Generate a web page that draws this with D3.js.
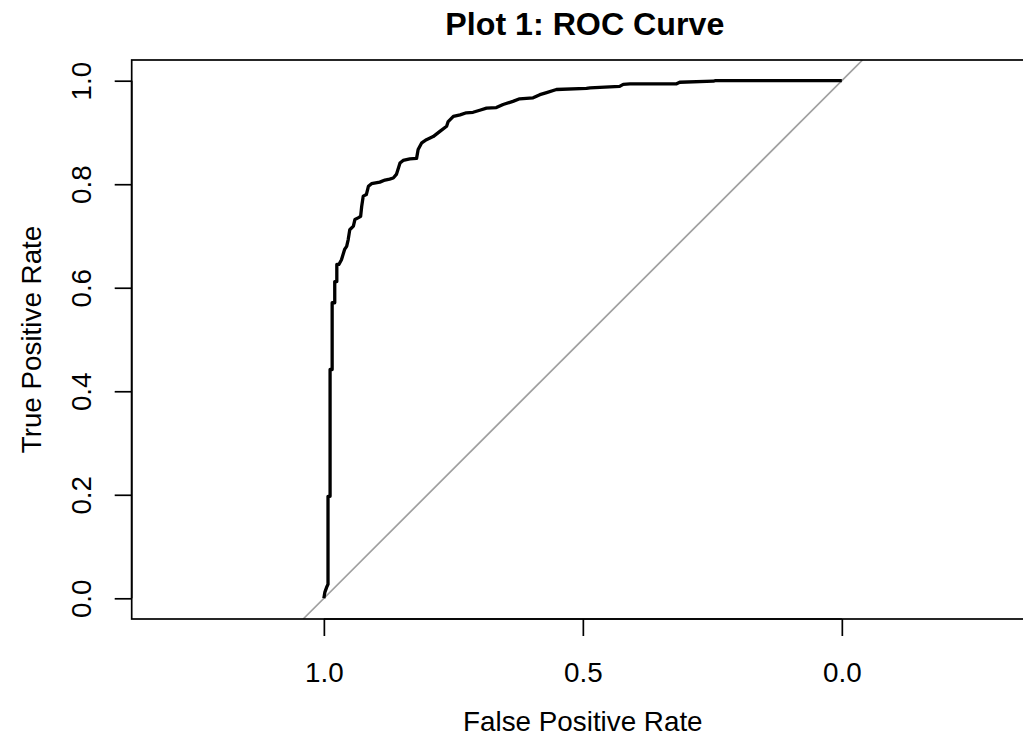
<!DOCTYPE html>
<html>
<head>
<meta charset="utf-8">
<script src="https://cdn.jsdelivr.net/npm/d3@7"></script>
<style>
  html, body { margin: 0; padding: 0; background: #fff; }
  svg { display: block; font-family: "Liberation Sans", Arial, Helvetica, sans-serif; }
</style>
</head>
<body>
<svg id="chart" width="1023" height="736"></svg>
<script>
// ROC curve points: specificity (x, reversed axis) and sensitivity (y)
const specificity = [1.000,0.998,0.994,0.992,0.992,0.988,0.988,0.984,0.984,0.979,0.979,0.975,0.975,0.971,0.966,0.960,0.956,0.953,0.950,0.943,0.940,0.934,0.929,0.927,0.924,0.918,0.914,0.908,0.892,0.882,0.873,0.866,0.860,0.853,0.847,0.834,0.821,0.818,0.811,0.802,0.789,0.776,0.763,0.760,0.750,0.737,0.725,0.712,0.699,0.686,0.667,0.654,0.635,0.622,0.596,0.583,0.570,0.551,0.493,0.486,0.429,0.422,0.409,0.319,0.313,0.248,0.245,0.000];
const sensitivity = [0.000,0.012,0.023,0.027,0.197,0.197,0.442,0.442,0.571,0.571,0.612,0.612,0.645,0.645,0.654,0.674,0.680,0.693,0.712,0.719,0.732,0.735,0.738,0.757,0.777,0.780,0.796,0.801,0.804,0.808,0.810,0.812,0.819,0.841,0.846,0.849,0.850,0.867,0.880,0.886,0.892,0.902,0.912,0.921,0.931,0.934,0.938,0.939,0.943,0.947,0.948,0.954,0.960,0.965,0.967,0.973,0.977,0.983,0.985,0.986,0.989,0.993,0.994,0.994,0.997,0.999,1.000,1.000];
const xTicks = [1.0, 0.5, 0.0];
const yTicks = [0.0, 0.2, 0.4, 0.6, 0.8, 1.0];
const titleText = "Plot 1: ROC Curve";
const xLabel = "False Positive Rate";
const yLabel = "True Positive Rate";

(function () {
const svg = d3.select("#chart");
const pLeft = 131.7, pRight = 1034, pTop = 60, pBottom = 619;
const baseFont = 27.8;
const titleFont = 32.2;

const x = d3.scaleLinear().domain([1.371, -0.371]).range([pLeft, pRight]);
const y = d3.scaleLinear().domain([-0.04, 1.04]).range([pBottom, pTop]);

svg.append("clipPath").attr("id", "plotclip")
  .append("rect").attr("x", pLeft).attr("y", pTop).attr("width", pRight - pLeft).attr("height", pBottom - pTop);

const plot = svg.append("g").attr("clip-path", "url(#plotclip)");

// diagonal reference line (sens = 1 - spec)
plot.append("line")
  .attr("x1", x(1.04)).attr("y1", y(-0.04))
  .attr("x2", x(-0.04)).attr("y2", y(1.04))
  .attr("stroke", "#a0a0a0").attr("stroke-width", 1.7);

// ROC curve
const pts = specificity.map((s, i) => [s, sensitivity[i]]);
plot.append("path")
  .datum(pts)
  .attr("d", d3.line().x(d => x(d[0])).y(d => y(d[1])))
  .attr("fill", "none").attr("stroke", "#000").attr("stroke-width", 3.3)
  .attr("stroke-linejoin", "round");

// box
svg.append("rect")
  .attr("x", pLeft).attr("y", pTop).attr("width", pRight - pLeft).attr("height", pBottom - pTop)
  .attr("fill", "none").attr("stroke", "#000").attr("stroke-width", 1.7);

// x axis
const xAxis = svg.append("g").attr("transform", `translate(0,${pBottom})`)
  .call(d3.axisBottom(x).tickValues(xTicks).tickSize(17).tickFormat(d3.format(".1f")));
xAxis.select(".domain").remove();
xAxis.selectAll(".tick line").attr("stroke", "#000").attr("stroke-width", 1.7);
xAxis.selectAll(".tick text")
  .attr("y", 63).attr("dy", null)
  .attr("fill", "#000").style("font-size", baseFont + "px")
  .style("font-family", "'Liberation Sans', Arial, sans-serif");
svg.append("line").attr("x1", x(xTicks[0])).attr("x2", x(xTicks[xTicks.length-1]))
  .attr("y1", pBottom).attr("y2", pBottom).attr("stroke", "#000").attr("stroke-width", 1.7);

// y axis
const yAxis = svg.append("g").attr("transform", `translate(${pLeft},0)`)
  .call(d3.axisLeft(y).tickValues(yTicks).tickSize(17).tickFormat(d3.format(".1f")));
yAxis.select(".domain").remove();
yAxis.selectAll(".tick line").attr("stroke", "#000").attr("stroke-width", 1.7);
yAxis.selectAll(".tick text")
  .attr("x", null).attr("dy", null)
  .attr("text-anchor", "middle")
  .attr("transform", `translate(${90.5 - pLeft},0) rotate(-90)`)
  .attr("fill", "#000").style("font-size", baseFont + "px")
  .style("font-family", "'Liberation Sans', Arial, sans-serif");
svg.append("line").attr("y1", y(yTicks[0])).attr("y2", y(yTicks[yTicks.length-1]))
  .attr("x1", pLeft).attr("x2", pLeft).attr("stroke", "#000").attr("stroke-width", 1.7);

// title
svg.append("text")
  .attr("x", (pLeft + pRight) / 2 + 2).attr("y", 35)
  .attr("text-anchor", "middle").attr("font-weight", "bold")
  .style("font-size", titleFont + "px")
  .text(titleText);

// axis labels
svg.append("text")
  .attr("x", (pLeft + pRight) / 2).attr("y", 731)
  .attr("text-anchor", "middle").style("font-size", baseFont + "px")
  .text(xLabel);

svg.append("text")
  .attr("transform", `translate(40.5,${(pTop + pBottom) / 2}) rotate(-90)`)
  .attr("text-anchor", "middle").style("font-size", baseFont + "px")
  .text(yLabel);
})();
</script>
</body>
</html>
